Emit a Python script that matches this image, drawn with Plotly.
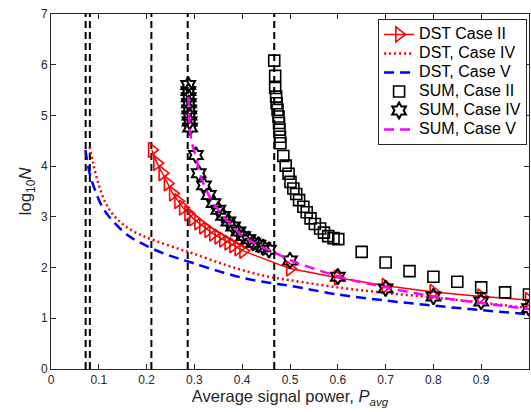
import plotly.graph_objects as go

# ---------------- data ----------------
# DST, Case II (red solid line with right-pointing triangles)
dst2_x = [0.211, 0.222, 0.233, 0.244, 0.255, 0.266, 0.276, 0.287, 0.297, 0.308,
          0.318, 0.329, 0.339, 0.350, 0.360, 0.371, 0.381, 0.392, 0.402,
          0.5, 0.6, 0.7, 0.8, 0.9, 1.0]
dst2_y = [4.32, 4.06, 3.86, 3.66, 3.46, 3.31, 3.18, 3.07, 2.97, 2.89,
          2.81, 2.74, 2.67, 2.61, 2.55, 2.49, 2.44, 2.38, 2.33,
          1.98, 1.80, 1.64, 1.52, 1.43, 1.36]

# DST, Case IV (red dotted)
dst4_x = [0.081, 0.088, 0.099, 0.113, 0.130, 0.155, 0.186, 0.221, 0.27, 0.30,
          0.35, 0.40, 0.45, 0.50, 0.60, 0.70, 0.80, 0.90, 1.00]
dst4_y = [4.38, 4.06, 3.66, 3.30, 3.04, 2.82, 2.65, 2.52, 2.36, 2.27,
          2.10, 1.95, 1.83, 1.75, 1.61, 1.50, 1.41, 1.31, 1.20]

# DST, Case V (blue dashed)
dst5_x = [0.072, 0.080, 0.092, 0.109, 0.134, 0.165, 0.204, 0.238, 0.27, 0.30,
          0.35, 0.40, 0.45, 0.50, 0.60, 0.70, 0.80, 0.90, 1.00]
dst5_y = [4.32, 3.89, 3.53, 3.17, 2.87, 2.61, 2.41, 2.27, 2.17, 2.08,
          1.93, 1.80, 1.71, 1.64, 1.47, 1.35, 1.25, 1.16, 1.08]

# SUM, Case II (black open squares)
sum2_x = [0.467, 0.469, 0.469, 0.471, 0.472, 0.474, 0.476, 0.477, 0.478, 0.479,
          0.480, 0.486, 0.491, 0.497, 0.501, 0.507, 0.513, 0.519, 0.528, 0.535,
          0.543, 0.552, 0.563, 0.571, 0.580, 0.591, 0.601,
          0.65, 0.70, 0.75, 0.80, 0.85, 0.90, 0.95, 1.00]
sum2_y = [6.08, 5.78, 5.54, 5.37, 5.24, 5.11, 4.98, 4.85, 4.72, 4.58,
          4.45, 4.20, 4.01, 3.85, 3.69, 3.56, 3.45, 3.33, 3.20, 3.09,
          2.97, 2.86, 2.77, 2.69, 2.62, 2.58, 2.56,
          2.31, 2.10, 1.93, 1.82, 1.72, 1.61, 1.51, 1.47]

# SUM, Case IV (black open hexagrams)
sum4_x = [0.287, 0.2875, 0.288, 0.2885, 0.289, 0.2895, 0.290, 0.291,
          0.303, 0.309, 0.320, 0.330, 0.340, 0.350, 0.360, 0.371, 0.381, 0.392,
          0.402, 0.413, 0.423, 0.434, 0.444, 0.456,
          0.5, 0.6, 0.7, 0.8, 0.9, 1.0]
sum4_y = [5.60, 5.48, 5.36, 5.24, 5.12, 5.00, 4.88, 4.76,
          4.22, 3.86, 3.62, 3.43, 3.27, 3.14, 3.02, 2.91, 2.81, 2.71,
          2.62, 2.56, 2.49, 2.45, 2.40, 2.35,
          2.14, 1.82, 1.59, 1.43, 1.33, 1.20]

# SUM, Case V (magenta dashed)
sum5_x = [0.2875, 0.289, 0.291, 0.295, 0.303, 0.31, 0.32, 0.33, 0.34, 0.35,
          0.36, 0.38, 0.40, 0.42, 0.44, 0.46, 0.5, 0.6, 0.7, 0.8, 0.9, 1.0]
sum5_y = [5.37, 5.00, 4.70, 4.45, 4.20, 3.90, 3.63, 3.43, 3.27, 3.14,
          3.02, 2.81, 2.63, 2.51, 2.41, 2.33, 2.15, 1.83, 1.61, 1.43, 1.30, 1.18]

# vertical threshold lines
vlines_x = [0.0725, 0.0813, 0.210, 0.286, 0.467]
y_range = [0, 7]

x_ticks = [0, 0.1, 0.2, 0.3, 0.4, 0.5, 0.6, 0.7, 0.8, 0.9, 1]
x_tick_labels = ["0", "0.1", "0.2", "0.3", "0.4", "0.5", "0.6", "0.7", "0.8", "0.9", "1"]
y_ticks = [0, 1, 2, 3, 4, 5, 6, 7]

series_names = ["DST Case II", "DST, Case IV", "DST, Case V",
                "SUM, Case II", "SUM, Case IV", "SUM, Case V"]

FONT = "Liberation Sans, Arial, Helvetica, sans-serif"


def lg(name):
    # larger legend text while keeping compact row spacing
    return '<span style="font-size:16px">' + name + '</span>'


# ---------------- figure ----------------
fig = go.Figure()

for vx in vlines_x:
    fig.add_trace(go.Scatter(
        x=[vx, vx], y=y_range, mode="lines", showlegend=False, hoverinfo="skip",
        line=dict(color="black", width=2, dash="7px,4px")))

fig.add_trace(go.Scatter(
    x=dst2_x, y=dst2_y, mode="lines+markers", name=lg(series_names[0]),
    line=dict(color="#ff0000", width=1.5),
    marker=dict(symbol="triangle-right-open", size=13, color="#ff0000",
                line=dict(width=1.6, color="#ff0000"))))

fig.add_trace(go.Scatter(
    x=dst4_x, y=dst4_y, mode="lines", name=lg(series_names[1]),
    line=dict(color="#ff0000", width=2.5, dash="2px,3px", shape="spline")))

fig.add_trace(go.Scatter(
    x=dst5_x, y=dst5_y, mode="lines", name=lg(series_names[2]),
    line=dict(color="#0000ff", width=2.5, dash="10px,6px", shape="spline")))

fig.add_trace(go.Scatter(
    x=sum2_x, y=sum2_y, mode="markers", name=lg(series_names[3]),
    marker=dict(symbol="square-open", size=11, color="black",
                line=dict(width=1.6, color="black"))))

fig.add_trace(go.Scatter(
    x=sum4_x, y=sum4_y, mode="markers", name=lg(series_names[4]),
    marker=dict(symbol="hexagram-open", size=12, color="black",
                line=dict(width=2, color="black"))))

fig.add_trace(go.Scatter(
    x=sum5_x, y=sum5_y, mode="lines", name=lg(series_names[5]),
    line=dict(color="#ff00ff", width=2.5, dash="10px,6px", shape="spline")))

axis_common = dict(
    showgrid=False, zeroline=False, showline=True, linecolor="#262626",
    linewidth=1, mirror="ticks", ticks="inside", ticklen=5, tickcolor="#262626",
    tickfont=dict(family=FONT, size=12, color="#262626"),
)

fig.update_xaxes(range=[0, 1], tickvals=x_ticks, ticktext=x_tick_labels,
                 title=dict(text="Average signal power, <i>P<sub>avg</sub></i>",
                            font=dict(family=FONT, size=16.5, color="#262626"), standoff=2),
                 **axis_common)
fig.update_yaxes(range=y_range, tickvals=y_ticks,
                 title=dict(text="log<sub>10</sub><i>N</i>",
                            font=dict(family=FONT, size=17, color="#262626"), standoff=4),
                 **axis_common)

fig.update_layout(
    width=531, height=412,
    margin=dict(l=51, r=2, t=14, b=43),
    plot_bgcolor="white", paper_bgcolor="white",
    legend=dict(x=0.996, y=0.986, xanchor="right", yanchor="top",
                bgcolor="white", bordercolor="#262626", borderwidth=1,
                font=dict(family=FONT, size=12, color="black"),
                itemwidth=30, tracegroupgap=0),
)

fig.write_html("out.html")
